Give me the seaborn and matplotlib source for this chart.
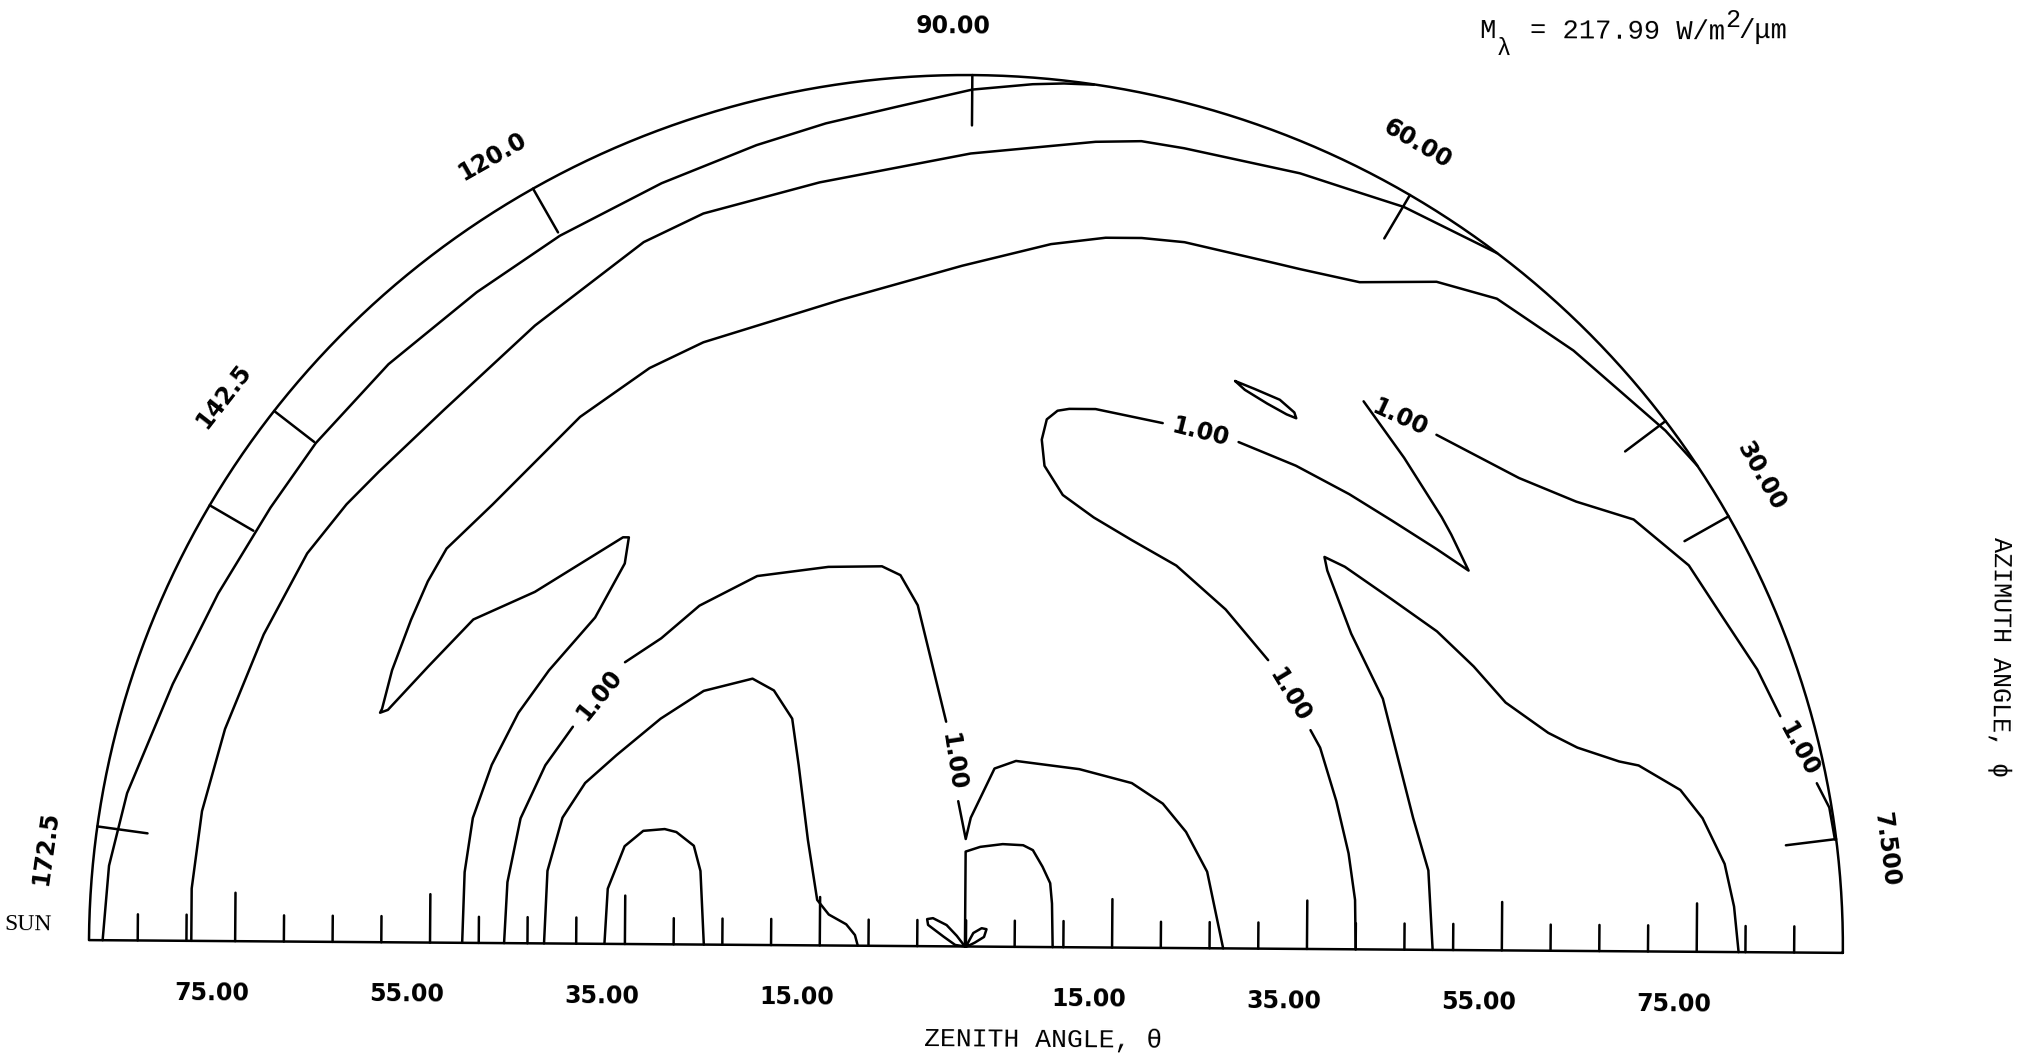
import numpy as np
import pandas as pd
import matplotlib
matplotlib.use("Agg")
import matplotlib.pyplot as plt
import seaborn as sns

# Sky-dome projection: zenith angle theta and azimuth phi are drawn at
# (theta*cos(phi), theta*sin(phi)) in degrees; the sun sits at phi = 180 (left).

# ---- contour traces, (x, y) in degrees -------------------------------------
contour_a = [(-88.6, 0.0), (-88.0, 7.7), (-86.2, 15.2), (-81.6, 26.5), (-77.0, 35.9),
             (-71.7, 44.8), (-67.1, 51.5), (-59.7, 59.7), (-50.7, 67.2), (-42.2, 73.1),
             (-31.8, 78.6), (-22.1, 82.6), (-15.0, 84.9), (-7.6, 86.7), (0.0, 88.5),
             (6.2, 89.1), (9.4, 89.2), (12.5, 89.1)]
contour_b = [(-79.5, 0.0), (-79.5, 5.4), (-78.5, 13.4), (-76.2, 21.9), (-72.3, 31.7),
             (-67.9, 40.1), (-63.9, 45.2), (-60.6, 48.6), (-54.0, 55.0), (-44.7, 63.8),
             (-33.6, 72.5), (-27.5, 75.5), (-15.6, 78.8), (-0.1, 81.9), (12.7, 83.2),
             (17.4, 83.3), (21.8, 82.6), (33.7, 80.1), (38.7, 78.5), (44.4, 76.7),
             (54.0, 72.0)]
contour_c = [(74.7, 50.2), (71.4, 53.8), (61.9, 62.0), (54.0, 67.3), (47.8, 69.0),
             (39.9, 68.9), (33.8, 70.2), (31.2, 70.8), (21.9, 72.9), (17.5, 73.3),
             (13.8, 73.3), (8.2, 72.6), (-0.9, 70.3), (-13.3, 66.7), (-27.4, 62.2),
             (-32.9, 59.5), (-40.0, 54.4), (-48.9, 45.3), (-53.6, 40.7), (-55.5, 37.3),
             (-57.2, 33.3), (-59.1, 28.1), (-60.1, 24.1), (-60.3, 23.7), (-59.5, 24.0),
             (-55.4, 28.5), (-50.8, 33.4), (-44.5, 36.3), (-35.5, 42.0), (-34.9, 42.0),
             (-35.3, 39.3), (-38.3, 33.7), (-43.0, 28.2), (-46.1, 23.8), (-48.8, 18.4),
             (-50.7, 12.9), (-51.5, 7.3), (-51.7, 0.0)]
contour_d_1 = [(-47.4, 0.0), (-47.1, 6.3), (-45.8, 12.9), (-43.3, 18.4), (-40.5, 22.4)]
contour_d_2 = [(-35.2, 29.1), (-31.5, 31.6), (-27.6, 35.0), (-21.7, 38.1), (-14.4, 39.1),
               (-8.9, 39.2), (-7.0, 38.3), (-5.2, 35.2), (-3.8, 29.6), (-2.2, 23.2)]
contour_d_3 = [(-0.9, 15.0), (-0.1, 11.1), (0.4, 13.3), (2.8, 18.4), (5.0, 19.2),
               (11.5, 18.4), (16.9, 17.0), (20.1, 14.9), (22.5, 12.0), (24.7, 7.9),
               (26.4, 0.0)]
contour_e = [(-43.3, 0.0), (-43.0, 7.5), (-41.5, 13.0), (-39.2, 16.6), (-36.0, 19.5),
             (-31.5, 23.3), (-27.1, 26.2), (-22.1, 27.5), (-19.9, 26.3), (-18.0, 23.4),
             (-17.3, 18.6), (-16.3, 10.9), (-15.3, 4.7), (-14.1, 3.2), (-12.3, 2.2),
             (-11.4, 1.1), (-11.1, 0.0)]
contour_f = [(-37.1, 0.0), (-36.8, 5.7), (-35.1, 10.1), (-33.2, 11.7), (-31.0, 11.9),
             (-29.8, 11.6), (-28.0, 10.2), (-27.3, 7.6), (-26.9, 0.0)]
contour_g = [(-0.1, 0.0), (-0.1, 9.8), (1.4, 10.3), (3.7, 10.6), (5.8, 10.5), (6.8, 10.0),
             (7.8, 8.3), (8.6, 6.6), (8.8, 4.5), (8.9, 0.0)]
petal_left = [(-0.1, 0.0), (-0.95, 1.1), (-2.0, 2.2), (-3.4, 2.9), (-4.0, 2.8),
              (-3.9, 2.2), (-2.3, 1.0), (-1.1, 0.15), (-0.1, 0.0)]
petal_right = [(0.0, 0.0), (0.75, 1.4), (1.6, 1.9), (2.1, 1.8), (1.85, 1.0),
               (0.9, 0.4), (0.1, 0.0)]
contour_z_1 = [(40.0, 0.0), (39.9, 5.1), (39.2, 9.9), (37.9, 15.3), (36.2, 20.8), (35.2, 22.6)]
contour_z_2 = [(30.8, 29.8), (26.4, 35.0), (21.3, 39.5), (16.7, 42.1), (12.8, 44.4),
               (9.6, 46.7), (7.7, 49.7), (7.4, 52.4), (7.9, 54.5), (9.0, 55.4),
               (10.2, 55.6), (12.9, 55.6), (19.8, 54.2)]
contour_z_3 = [(27.6, 52.3), (33.5, 49.9), (39.0, 47.0), (43.4, 44.3), (48.0, 41.4),
               (51.3, 39.2), (49.5, 42.9), (48.5, 44.7), (44.6, 50.8), (40.4, 56.6)]
contour_z_4 = [(47.9, 53.2), (56.4, 48.8), (62.3, 46.4), (68.2, 44.6), (73.9, 39.9),
               (77.4, 34.6), (81.0, 29.2), (83.4, 24.4)]
contour_z_5 = [(87.2, 17.5), (88.5, 15.0), (89.1, 11.7)]
sliver = [(27.2, 58.6), (29.2, 57.8), (31.8, 56.7), (33.3, 55.4), (33.5, 54.8),
          (32.5, 55.2), (30.5, 56.3), (28.2, 57.7), (27.2, 58.6)]
contour_t = [(47.9, 0.0), (47.4, 8.2), (45.8, 13.6), (43.9, 20.9), (42.6, 25.9),
             (39.3, 32.6), (36.8, 39.1), (36.5, 40.5), (38.6, 39.5), (43.4, 36.2),
             (48.1, 32.9), (51.9, 29.3), (55.2, 25.6), (59.6, 22.5), (62.6, 21.0),
             (66.9, 19.6), (68.9, 19.2), (73.2, 16.7), (75.5, 13.8), (77.8, 9.1),
             (78.8, 4.7), (79.3, 0.0)]

# contour value labels: text, and the two ends of the gap left for it
contour_labels = [("1.00", (-40.5, 22.4), (-35.2, 29.1)),
                  ("1.00", (-2.2, 23.2), (-0.9, 15.0)),
                  ("1.00", (35.2, 22.6), (30.8, 29.8)),
                  ("1.00", (19.8, 54.2), (27.6, 52.3)),
                  ("1.00", (40.4, 56.6), (47.9, 53.2)),
                  ("1.00", (83.4, 24.4), (87.2, 17.5))]

# ---- axes annotation -------------------------------------------------------
zenith_ticks = np.arange(-85, 90, 5)
zenith_major = [-75, -55, -35, -15, 15, 35, 55, 75]
zenith_labels = ["75.00", "55.00", "35.00", "15.00", "15.00", "35.00", "55.00", "75.00"]
azimuth_ticks = [7.5, 30, 37.5, 60, 90, 120, 142.5, 150, 172.5]
azimuth_label_angles = [7.5, 30, 60, 90, 120, 142.5, 172.5]
azimuth_labels = ["7.500", "30.00", "60.00", "90.00", "120.0", "142.5", "172.5"]
exitance = "217.99"

# ---- drawing ---------------------------------------------------------------
TILT = -0.42          # the plotted sheet sits slightly rotated
HORIZON = 90.0
LW = 1.8
NUM_FONT = "DejaVu Sans"
TYPE_FONT = ["Liberation Mono", "DejaVu Sans Mono"]
# where each azimuth label sits along the rim (degrees of azimuth)
label_rim_pos = [6.5, 31.2, 61.2, 91.2, 121.2, 143.7, 174.3]

sns.set_theme(style="white")
plt.rcParams["font.family"] = ["DejaVu Sans"]


def tilt(x, y):
    t = np.deg2rad(TILT)
    x = np.asarray(x, float)
    y = np.asarray(y, float)
    return x * np.cos(t) - y * np.sin(t), x * np.sin(t) + y * np.cos(t)


fig = plt.figure(figsize=(20.17, 10.56), dpi=100)
ax = fig.add_axes([0, 0, 1, 1])

segments = {}
phi = np.linspace(0, 180, 361)
frame_x = np.r_[HORIZON * np.cos(np.deg2rad(phi)), HORIZON]
frame_y = np.r_[HORIZON * np.sin(np.deg2rad(phi)), 0.0]
segments["frame"] = list(zip(frame_x, frame_y))

for v in zenith_ticks:
    h = 5.0 if v in zenith_major else 2.7
    segments[f"zt{v}"] = [(v, 0.0), (v, h)]
for a in azimuth_ticks:
    c, s = np.cos(np.deg2rad(a)), np.sin(np.deg2rad(a))
    segments[f"at{a}"] = [(HORIZON * c, HORIZON * s), (84.8 * c, 84.8 * s)]

named = {"a": contour_a, "b": contour_b, "c": contour_c,
         "d1": contour_d_1, "d2": contour_d_2, "d3": contour_d_3,
         "e": contour_e, "f": contour_f, "g": contour_g,
         "pl": petal_left, "pr": petal_right,
         "z1": contour_z_1, "z2": contour_z_2, "z3": contour_z_3,
         "z4": contour_z_4, "z5": contour_z_5, "s": sliver, "t": contour_t}
segments.update(named)

rows = []
for key, pts in segments.items():
    for i, (x, y) in enumerate(pts):
        rows.append((key, i, x, y))
df = pd.DataFrame(rows, columns=["seg", "order", "x", "y"])
df["x"], df["y"] = tilt(df["x"], df["y"])

sns.lineplot(data=df, x="x", y="y", units="seg", estimator=None, sort=False,
             color="black", linewidth=LW, ax=ax, legend=False)
ax.set_xlim(-99.13, 107.87)
ax.set_ylim(-11.31, 97.75)
ax.axis("off")


def put(x, y, s, rotation=0.0, **kw):
    tx, ty = tilt(x, y)
    ax.text(float(tx), float(ty), s, rotation=rotation + TILT,
            rotation_mode="anchor", color="black", **kw)


num_style = dict(family=NUM_FONT, fontsize=17, fontweight="bold")

# contour value labels, aligned with the gap they fill
for text, p1, p2 in contour_labels:
    q1 = ax.transData.transform(np.array(tilt(*p1)))
    q2 = ax.transData.transform(np.array(tilt(*p2)))
    ang = np.degrees(np.arctan2(q2[1] - q1[1], q2[0] - q1[0]))
    if ang > 90:
        ang -= 180
    elif ang < -90:
        ang += 180
    mx, my = (p1[0] + p2[0]) / 2, (p1[1] + p2[1]) / 2
    put(mx, my, text, rotation=ang - TILT, ha="center", va="center", **num_style)

# zenith scale
for v, lab in zip(zenith_major, zenith_labels):
    put(v - 2.35, -5.4, lab, ha="center", va="center", **num_style)

# azimuth scale
for a, pos, lab in zip(azimuth_label_angles, label_rim_pos, azimuth_labels):
    r = np.deg2rad(pos)
    put(95.0 * np.cos(r), 95.0 * np.sin(r), lab, rotation=a - 90,
        ha="center", va="center", **num_style)

put(-98.7, 1.0, "SUN", ha="left", va="baseline", family="Liberation Serif", fontsize=17)
put(7.95, -9.6, "ZENITH ANGLE, \u03b8", ha="center", va="center",
    family=TYPE_FONT, fontsize=19)
put(105.9, 30.7, "AZIMUTH ANGLE, \u03d5", rotation=-90, ha="center", va="center",
    family=TYPE_FONT, fontsize=18)

# band exitance
put(51.96, 94.19, "M", ha="left", va="baseline", family=TYPE_FONT, fontsize=19.5)
put(53.8, 92.47, "\u03bb", ha="left", va="baseline", family=TYPE_FONT, fontsize=17)
put(57.19, 94.24, f"= {exitance} W/m", ha="left", va="baseline", family=TYPE_FONT,
    fontsize=19.5)
put(77.2, 95.53, "2", ha="left", va="baseline", family=TYPE_FONT, fontsize=18)
put(78.6, 94.4, "/\u03bcm", ha="left", va="baseline", family=TYPE_FONT, fontsize=19.5)

fig.savefig("out.png", dpi=100, facecolor="white")
